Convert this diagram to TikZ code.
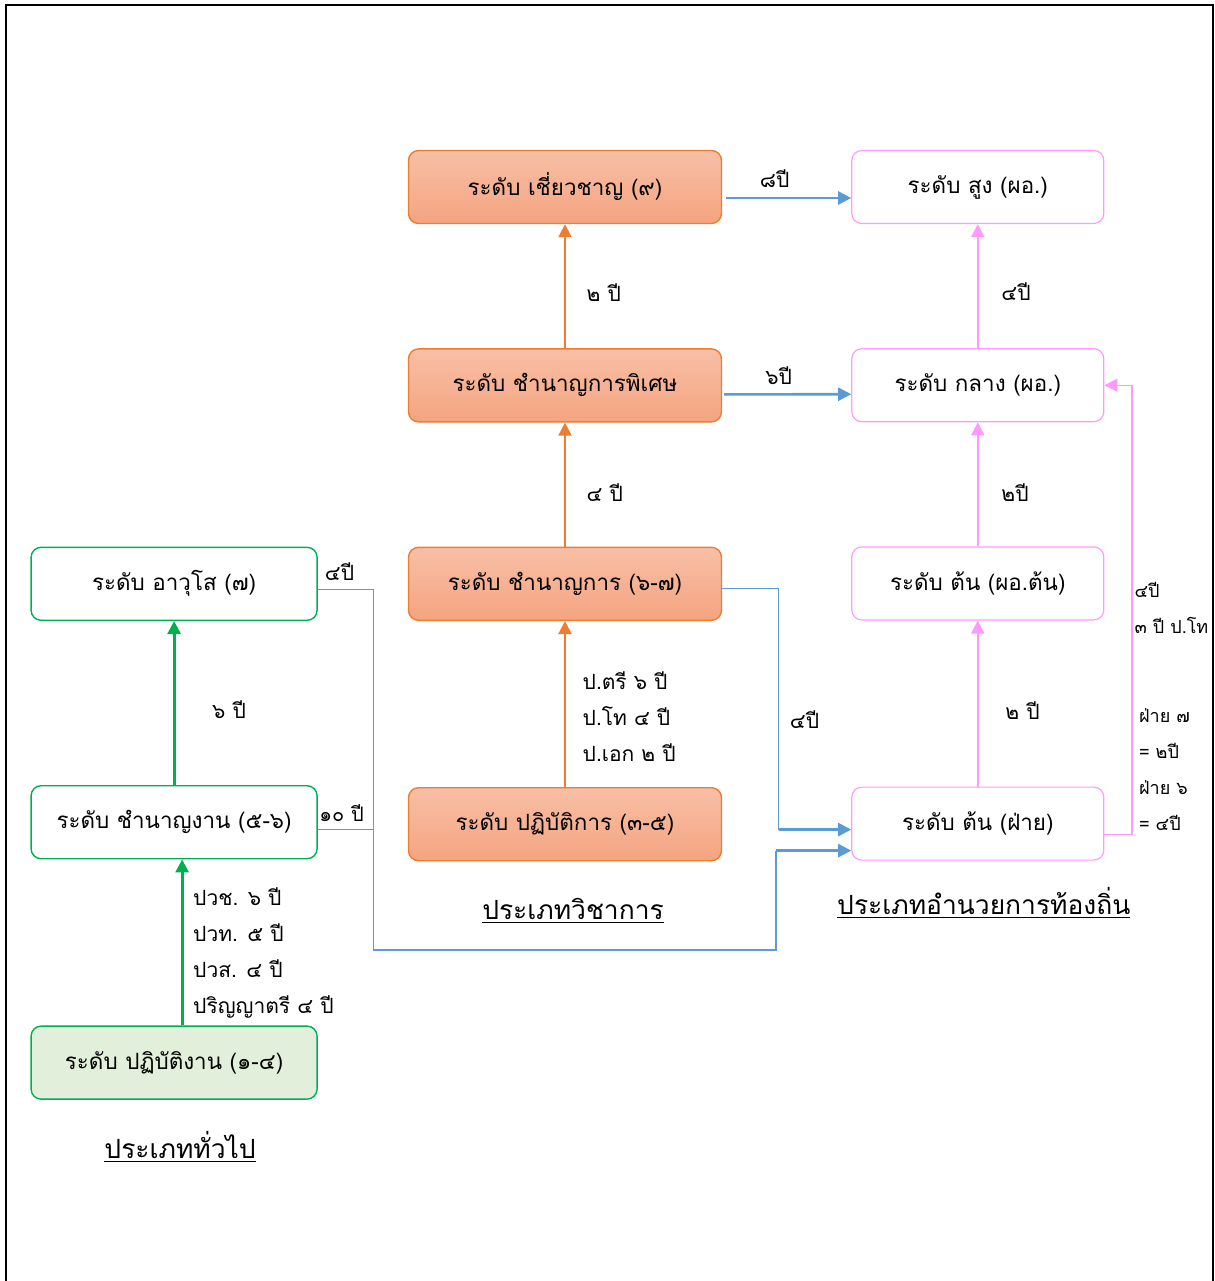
\documentclass[tikz,border=0pt]{standalone}
\usepackage{fontspec}
\setmainfont[Script=Thai]{Loma}
\usetikzlibrary{positioning}
\usetikzlibrary{arrows.meta}

\definecolor{acadcol}{HTML}{ED7D31}
\definecolor{acadtop}{HTML}{F8BFA6}
\definecolor{acadbot}{HTML}{F4A480}
\definecolor{loccol}{HTML}{FF99FF}
\definecolor{gencol}{HTML}{00B050}
\definecolor{genfill}{HTML}{E2EFDA}
\definecolor{linkcol}{HTML}{5B9BD5}

\tikzset{
  acadbox/.style={rectangle,rounded corners=5pt,draw=acadcol,line width=0.7pt,top color=acadtop,bottom color=acadbot,minimum width=156.5pt,minimum height=36.5pt},
  locbox/.style={rectangle,rounded corners=5pt,draw=loccol,line width=0.6pt,fill=white,minimum width=126pt,minimum height=36.5pt},
  genbox/.style={rectangle,rounded corners=5pt,draw=gencol,line width=0.7pt,fill=white,minimum width=143pt,minimum height=36.5pt},
  acadarrow/.style={-{Triangle[width=6.5pt,length=6.5pt]},acadcol,line width=1pt,text=black},
  locarrow/.style={-{Triangle[width=6.5pt,length=6.5pt]},loccol,line width=1pt,text=black},
  genarrow/.style={-{Triangle[width=6.5pt,length=6.5pt]},gencol,line width=1.4pt,text=black},
  linkarrow/.style={-{Triangle[width=6.5pt,length=6.5pt]},linkcol,line width=1.3pt,text=black},
  linkline/.style={linkcol,line width=0.6pt,text=black},
  yeartext/.style={font=\fontsize{10.5}{18}\selectfont},
  smalltext/.style={font=\fontsize{9}{18}\selectfont},
  titletext/.style={font=\fontsize{13.2}{16}\selectfont}
}

\begin{document}
\begin{tikzpicture}[x=0.5pt,y=-0.5pt,node distance=62pt,font=\fontsize{11.2}{18}\selectfont]
\useasboundingbox (0,0) rectangle (1215,1281);
\draw[line width=1pt] (6,1281) -- (6,5) -- (1213,5) -- (1213,1281);

% academic column
\node[acadbox] (acada) at (565,187) {ระดับ เชี่ยวชาญ (๙)};
\node[acadbox,below=of acada] (acadb) {ระดับ ชำนาญการพิเศษ};
\node[acadbox,below=of acadb] (acadc) {ระดับ ชำนาญการ (๖-๗)};
\node[acadbox,below=83pt of acadc] (acadd) {ระดับ ปฏิบัติการ (๓-๕)};
\node[titletext,below=15pt of acadd,xshift=4pt] (acadt) {\underline{ประเภทวิชาการ}};

% local admin column
\node[locbox,right=64.5pt of acada] (loca) {ระดับ สูง (ผอ.)};
\node[locbox,below=of loca] (locb) {ระดับ กลาง (ผอ.)};
\node[locbox,below=of locb] (locc) {ระดับ ต้น (ผอ.ต้น)};
\node[locbox,below=83pt of locc] (locd) {ระดับ ต้น (ฝ่าย)};
\node[titletext,below=10pt of locd,xshift=3pt] (loct) {\underline{ประเภทอำนวยการท้องถิ่น}};

% general column
\node[genbox,left=45pt of acadc] (genc) {ระดับ อาวุโส (๗)};
\node[genbox,below=82pt of genc] (genb) {ระดับ ชำนาญงาน (๕-๖)};
\node[genbox,below=83pt of genb,fill=genfill] (gena) {ระดับ ปฏิบัติงาน (๑-๔)};
\node[titletext,below=12pt of gena,xshift=3pt] (gent) {\underline{ประเภททั่วไป}};

\draw[acadarrow] (acadd) -- node[right=5pt,yshift=-6.5pt,yeartext,align=left] {ป.ตรี ๖ ปี\\ป.โท ๔ ปี\\ป.เอก ๒ ปี} (acadc);
\draw[acadarrow] (acadc) -- node[right=7pt,yshift=-4pt,yeartext] {๔ ปี} (acadb);
\draw[acadarrow] (acadb) -- node[right=7pt,yshift=-3pt,yeartext] {๒ ปี} (acada);

\draw[linkarrow,shorten <=2pt] ([yshift=-5.5pt]acada.east) -- node[above=1pt,xshift=-6pt,yeartext] {๘ปี} ([yshift=-5.5pt]loca.west);
\draw[linkarrow,shorten <=1pt] ([yshift=-4.5pt]acadb.east) -- node[above=1pt,xshift=-4pt,yeartext] {๖ปี} ([yshift=-4.5pt]locb.west);

\draw[locarrow] (locb) -- node[right=8pt,yshift=-3pt,yeartext] {๔ปี} (loca);
\draw[locarrow] (locc) -- node[right=8pt,yshift=-4pt,yeartext] {๒ปี} (locb);
\draw[locarrow] (locd) -- node[right=10pt,yshift=-3.5pt,yeartext] {๒ ปี} (locc);

\draw[locarrow,line width=0.6pt] ([yshift=-5.5pt]locd.east) -- ++(13.75pt,0) |- node[pos=0.248,right,yshift=2pt,smalltext,align=left,inner xsep=1pt] {๔ปี\\๓ ปี ป.โท} node[pos=0.067,right,yshift=2.5pt,smalltext,align=left] {ฝ่าย ๗\\= ๒ปี\\ฝ่าย ๖\\= ๔ปี} (locb.east);

% links into ระดับ ต้น (ฝ่าย)
\coordinate (linka) at ([xshift=28.25pt,yshift=-2.5pt]acadc.east);
\coordinate (linkb) at ([yshift=-3pt]locd.west);
\draw[linkline] ([yshift=-2.5pt]acadc.east) -- (linka) -- node[right=2pt,yshift=-5pt,yeartext] {๔ปี} (linka |- linkb);
\draw[linkarrow] (linka |- linkb) -- (linkb);

\coordinate (linkc) at ([xshift=27.75pt,yshift=-3pt]genc.east);
\coordinate (linkd) at ([yshift=-13.5pt]locd.west);
\coordinate (linke) at (776,950);
\coordinate (linkf) at ([yshift=-3.5pt]genb.east);
\draw[linkline] ([yshift=-3pt]genc.east) -- node[above=1pt,xshift=-3pt,yeartext] {๔ปี} (linkc) -- (linkc |- linke) -- (linke) -- (linke |- linkd);
\draw[linkarrow] (linke |- linkd) -- (linkd);
\draw[linkline] (linkf) -- node[above=0pt,xshift=-2pt,font=\fontsize{10}{12}\selectfont] {๑๐ ปี} (linkf -| linkc);

\draw[genarrow] (genb) -- node[right=15pt,yshift=-3.5pt,yeartext] {๖ ปี} (genc);
\draw[genarrow] ([xshift=4pt]gena.north) -- node[right=1.5pt,yshift=-5.5pt,yeartext,align=left] {ปวช. ๖ ปี\\ปวท. ๕ ปี\\ปวส. ๔ ปี\\ปริญญาตรี ๔ ปี} ([xshift=4pt]genb.south);

\end{tikzpicture}
\end{document}
